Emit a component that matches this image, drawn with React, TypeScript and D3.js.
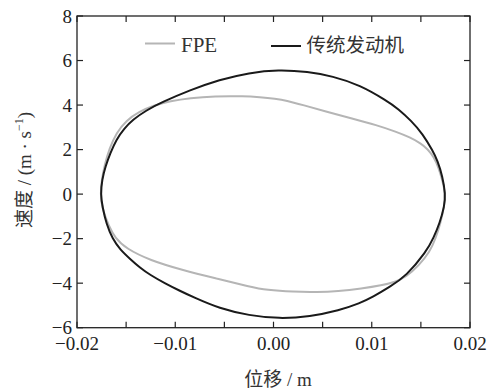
import React from "react";
import * as d3 from "d3";

// Black curve (传统发动机): displacement (m) and velocity (m/s), clockwise from left end
const engineX = [
  -0.0176, -0.01745, -0.0171, -0.0166, -0.016, -0.0152, -0.0143, -0.013, -0.0114, -0.0085, -0.0055, -0.0025,
  0.0005, 0.0035, 0.006, 0.0088, 0.0115, 0.0127, 0.014, 0.0152, 0.0162, 0.0167, 0.0172, 0.0175,
  0.0174, 0.0169, 0.0163, 0.01556, 0.0135, 0.0118, 0.0101, 0.0088, 0.0067, 0.0037, 0.0006, -0.0025, -0.0055,
  -0.0082, -0.0095, -0.011, -0.0126, -0.0136, -0.0145, -0.0156, -0.0164, -0.017, -0.0174,
];
const engineY = [
  0, 0.65, 1.25, 1.85, 2.45, 2.95, 3.35, 3.75, 4.12, 4.67, 5.14, 5.45,
  5.59, 5.5, 5.3, 4.9, 4.2, 3.83, 3.3, 2.7, 1.95, 1.5, 0.8, 0,
  -0.55, -1.32, -1.95, -2.59, -3.68, -4.18, -4.62, -4.9, -5.22, -5.5, -5.6, -5.45, -5.14,
  -4.62, -4.35, -4.02, -3.62, -3.3, -2.95, -2.5, -2.0, -1.35, -0.6,
];

// Grey curve (FPE)
const fpeX = [
  -0.0176, -0.0175, -0.0172, -0.0167, -0.016, -0.015, -0.0137, -0.0122, -0.0105, -0.0085, -0.006, -0.003,
  -0.0014, 0.0002, 0.0013, 0.003, 0.0054, 0.008, 0.0105, 0.0125, 0.0139, 0.015, 0.0157, 0.0163, 0.0168, 0.0172, 0.0175,
  0.0174, 0.017, 0.0165, 0.0159, 0.0148, 0.0135, 0.0125, 0.011, 0.009, 0.0065, 0.0045, 0.002, -0.0007, -0.0024,
  -0.0058, -0.0092, -0.0126, -0.015, -0.0161, -0.0168, -0.0173, -0.0175,
];
const fpeY = [
  0, 0.6, 1.3, 2.05, 2.75, 3.3, 3.7, 3.98, 4.18, 4.32, 4.4, 4.4,
  4.35, 4.28, 4.21, 4.0, 3.7, 3.4, 3.1, 2.8, 2.55, 2.28, 2.02, 1.68, 1.2, 0.6, 0,
  -0.5, -1.3, -2.0, -2.6, -3.2, -3.72, -3.93, -4.1, -4.24, -4.36, -4.4, -4.39, -4.31, -4.16,
  -3.79, -3.42, -2.97, -2.44, -1.99, -1.4, -0.8, -0.4,
];

const xTickLabels = [-0.02, -0.01, 0, 0.01, 0.02];
const xMinorTicks = [-0.015, -0.005, 0.005, 0.015];
const yTickLabels = [-6, -4, -2, 0, 2, 4, 6, 8];

const seriesNames = ["FPE", "传统发动机"];

const W = 491;
const H = 390;
const L = 77, R = 470, T = 16, B = 327.7;

const serif = "'Liberation Serif', 'DejaVu Serif', serif";
const cjk = "'Noto Sans CJK SC', 'Liberation Serif', sans-serif";

const fmt = (v: number) => {
  const s = Math.abs(v).toFixed(2);
  return v < 0 ? "\u2212" + s : s;
};

export default function App() {
  const x = d3.scaleLinear().domain([-0.02, 0.02]).range([L, R]);
  const y = d3.scaleLinear().domain([-6, 8]).range([B, T]);

  const line = d3
    .line<[number, number]>()
    .x((d) => x(d[0]))
    .y((d) => y(d[1]))
    .curve(d3.curveBasisClosed);

  const engPts = engineX.map((v, i) => [v, engineY[i]] as [number, number]);
  const fpePts = fpeX.map((v, i) => [v, fpeY[i]] as [number, number]);

  const tickLen = 6;
  const axisColor = "#222";

  return (
    <svg
      width={W}
      height={H}
      style={{ position: "absolute", left: 0, top: 0, background: "#fff" }}
    >
      <defs>
        <clipPath id="plot">
          <rect x={L} y={T} width={R - L} height={B - T} />
        </clipPath>
      </defs>
      <g clipPath="url(#plot)">
        <path d={line(fpePts) || ""} fill="none" stroke="#b5b5b5" strokeWidth={2} />
        <path d={line(engPts) || ""} fill="none" stroke="#1a1a1a" strokeWidth={2} />
      </g>

      {/* frame */}
      <rect x={L} y={T} width={R - L} height={B - T} fill="none" stroke={axisColor} strokeWidth={1.3} />

      {/* x ticks top & bottom */}
      {[...xTickLabels, ...xMinorTicks].map((v, i) => (
        <g key={"xt" + i}>
          <line x1={x(v)} x2={x(v)} y1={B} y2={B - tickLen} stroke={axisColor} strokeWidth={1.2} />
          <line x1={x(v)} x2={x(v)} y1={T} y2={T + tickLen} stroke={axisColor} strokeWidth={1.2} />
        </g>
      ))}
      {xTickLabels.map((v, i) => (
        <text
          key={"xl" + i}
          x={x(v)}
          y={349.5}
          textAnchor="middle"
          fontFamily={serif}
          fontSize={19}
          fill="#222"
        >
          {fmt(v)}
        </text>
      ))}

      {/* y ticks left & right */}
      {yTickLabels.map((v, i) => (
        <g key={"yt" + i}>
          <line x1={L} x2={L + tickLen} y1={y(v)} y2={y(v)} stroke={axisColor} strokeWidth={1.2} />
          <line x1={R} x2={R - tickLen} y1={y(v)} y2={y(v)} stroke={axisColor} strokeWidth={1.2} />
          <text
            x={72}
            y={y(v) + 6.5}
            textAnchor="end"
            fontFamily={serif}
            fontSize={19}
            fill="#222"
          >
            {v < 0 ? "\u2212" + Math.abs(v) : String(v)}
          </text>
        </g>
      ))}

      {/* legend */}
      <line x1={145} x2={175} y1={43.5} y2={43.5} stroke="#b5b5b5" strokeWidth={2} />
      <text x={181} y={52.3} fontFamily={serif} fontSize={21} fill="#333">
        {seriesNames[0]}
      </text>
      <line x1={271} x2={301} y1={46} y2={46} stroke="#1a1a1a" strokeWidth={2} />
      <text x={306.5} y={52} fontFamily={cjk} fontSize={19.5} fill="#333">
        {seriesNames[1]}
      </text>

      {/* axis titles */}
      <text x={278} y={385.5} textAnchor="middle" fontSize={19} fill="#333">
        <tspan fontFamily={cjk}>位移</tspan>
        <tspan fontFamily={serif}> / m</tspan>
      </text>
      <text
        transform={`translate(31, 170) rotate(-90)`}
        textAnchor="middle"
        fontSize={19}
        fill="#333"
      >
        <tspan fontFamily={cjk}>速度</tspan>
        <tspan fontFamily={serif}> / (m · s</tspan>
        <tspan fontFamily={serif} fontSize={12} dy={-8}>−1</tspan>
        <tspan fontFamily={serif} dy={8}>)</tspan>
      </text>
    </svg>
  );
}
